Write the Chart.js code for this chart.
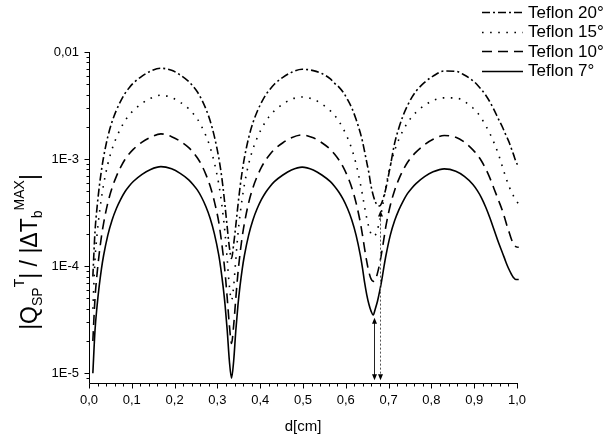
<!DOCTYPE html>
<html>
<head>
<meta charset="utf-8">
<script src="https://cdn.jsdelivr.net/npm/chart.js@4.4.0/dist/chart.umd.min.js"></script>
<style>
  html, body { margin: 0; padding: 0; background: #fff; }
  canvas { display: block; }
</style>
</head>
<body>
<canvas id="chart" width="609" height="444"></canvas>
<script>
// d [cm], shared by all four curves
const xs = [
  0.009, 0.014, 0.019, 0.024, 0.029, 0.034, 0.044, 0.054, 0.064, 0.074, 0.084, 0.094, 0.104, 0.124, 0.144, 0.168,
  0.193, 0.213, 0.233, 0.243, 0.253, 0.263, 0.273, 0.283, 0.293, 0.303, 0.308, 0.313, 0.318, 0.323, 0.328, 0.333,
  0.338, 0.343, 0.348, 0.353, 0.358, 0.363, 0.373, 0.383, 0.393, 0.403, 0.413, 0.423, 0.433, 0.453, 0.473, 0.498,
  0.524, 0.544, 0.564, 0.574, 0.584, 0.594, 0.604, 0.614, 0.624, 0.634, 0.639, 0.644, 0.649, 0.654, 0.659, 0.664,
  0.669, 0.674, 0.679, 0.684, 0.689, 0.694, 0.704, 0.714, 0.724, 0.734, 0.744, 0.754, 0.764, 0.784, 0.804, 0.830,
  0.857, 0.877, 0.897, 0.907, 0.917, 0.927, 0.937, 0.947, 0.957, 0.967, 0.972, 0.977, 0.982, 0.987, 0.992, 0.997, 1.004, 1.011];

const teflon20 = [
  8.0e-5, 2.1e-4, 3.6e-4, 5.5e-4, 7.8e-4, 1.04e-3, 1.62e-3, 2.24e-3, 2.86e-3, 3.48e-3, 4.1e-3, 4.64e-3, 5.14e-3, 5.96e-3, 6.63e-3, 7.05e-3,
  6.75e-3, 6.1e-3, 5.3e-3, 4.8e-3, 4.25e-3, 3.62e-3, 2.95e-3, 2.28e-3, 1.62e-3, 1.04e-3, 7.8e-4, 5.5e-4, 3.6e-4, 2.3e-4, 1.5e-4, 1.18e-4,
  1.6e-4, 2.4e-4, 3.7e-4, 5.5e-4, 7.7e-4, 1.02e-3, 1.58e-3, 2.18e-3, 2.78e-3, 3.38e-3, 3.98e-3, 4.5e-3, 5.0e-3, 5.8e-3, 6.45e-3, 6.9e-3,
  6.7e-3, 6.3e-3, 5.6e-3, 5.1e-3, 4.7e-3, 4.2e-3, 3.6e-3, 3.0e-3, 2.35e-3, 1.75e-3, 1.46e-3, 1.17e-3, 9.3e-4, 7.4e-4, 5.6e-4, 4.6e-4,
  4.0e-4, 3.7e-4, 3.65e-4, 3.9e-4, 4.5e-4, 5.4e-4, 8.6e-4, 1.4e-3, 1.95e-3, 2.55e-3, 3.15e-3, 3.75e-3, 4.3e-3, 5.2e-3, 5.95e-3, 6.65e-3,
  6.6e-3, 6.1e-3, 5.4e-3, 4.95e-3, 4.45e-3, 3.95e-3, 3.4e-3, 2.85e-3, 2.35e-3, 1.95e-3, 1.75e-3, 1.58e-3, 1.42e-3, 1.25e-3, 1.1e-3, 9.6e-4, 8.4e-4, null];

const teflon15 = [
  4.0e-5, 1.15e-4, 2.0e-4, 3.05e-4, 4.3e-4, 5.75e-4, 9.0e-4, 1.24e-3, 1.59e-3, 1.93e-3, 2.28e-3, 2.58e-3, 2.85e-3, 3.32e-3, 3.7e-3, 3.95e-3,
  3.75e-3, 3.4e-3, 2.95e-3, 2.67e-3, 2.37e-3, 2.02e-3, 1.66e-3, 1.29e-3, 9.2e-4, 5.9e-4, 4.4e-4, 3.05e-4, 2.0e-4, 1.15e-4, 6.5e-5, 4.8e-5,
  6.5e-5, 1.15e-4, 2.0e-4, 3.05e-4, 4.3e-4, 5.75e-4, 9.0e-4, 1.24e-3, 1.58e-3, 1.92e-3, 2.25e-3, 2.55e-3, 2.82e-3, 3.27e-3, 3.62e-3, 3.8e-3,
  3.62e-3, 3.27e-3, 2.82e-3, 2.55e-3, 2.25e-3, 1.92e-3, 1.58e-3, 1.24e-3, 9.0e-4, 5.9e-4, 4.6e-4, 3.55e-4, 2.8e-4, 2.3e-4, 2.0e-4, 1.9e-4,
  1.95e-4, 2.2e-4, 2.65e-4, 3.3e-4, 4.3e-4, 5.6e-4, 8.7e-4, 1.2e-3, 1.53e-3, 1.86e-3, 2.18e-3, 2.47e-3, 2.73e-3, 3.18e-3, 3.52e-3, 3.73e-3,
  3.72e-3, 3.45e-3, 3.0e-3, 2.72e-3, 2.4e-3, 2.05e-3, 1.72e-3, 1.4e-3, 1.1e-3, 8.2e-4, 7.1e-4, 6.2e-4, 5.5e-4, 4.9e-4, 4.5e-4, 4.15e-4, 3.8e-4, null];

const teflon10 = [
  2.0e-5, 5.0e-5, 8.6e-5, 1.32e-4, 1.88e-4, 2.5e-4, 3.9e-4, 5.4e-4, 6.9e-4, 8.4e-4, 9.9e-4, 1.12e-3, 1.24e-3, 1.44e-3, 1.6e-3, 1.72e-3,
  1.62e-3, 1.47e-3, 1.28e-3, 1.16e-3, 1.03e-3, 8.8e-4, 7.2e-4, 5.6e-4, 4.0e-4, 2.6e-4, 1.9e-4, 1.32e-4, 8.6e-5, 5.0e-5, 2.8e-5, 1.9e-5,
  2.8e-5, 5.0e-5, 8.6e-5, 1.32e-4, 1.88e-4, 2.5e-4, 3.9e-4, 5.4e-4, 6.9e-4, 8.4e-4, 9.8e-4, 1.11e-3, 1.23e-3, 1.42e-3, 1.58e-3, 1.68e-3,
  1.58e-3, 1.42e-3, 1.23e-3, 1.11e-3, 9.8e-4, 8.4e-4, 6.9e-4, 5.4e-4, 3.9e-4, 2.55e-4, 1.95e-4, 1.45e-4, 1.1e-4, 8.8e-5, 7.6e-5, 7.2e-5,
  7.4e-5, 8.6e-5, 1.05e-4, 1.35e-4, 1.8e-4, 2.4e-4, 3.7e-4, 5.1e-4, 6.5e-4, 7.9e-4, 9.3e-4, 1.05e-3, 1.16e-3, 1.36e-3, 1.53e-3, 1.66e-3,
  1.6e-3, 1.44e-3, 1.22e-3, 1.1e-3, 9.6e-4, 8.1e-4, 6.6e-4, 5.2e-4, 4.1e-4, 3.2e-4, 2.75e-4, 2.35e-4, 2.05e-4, 1.78e-4, 1.6e-4, 1.52e-4, 1.5e-4, 1.65e-4];

const teflon7 = [
  1.0e-5, 2.5e-5, 4.3e-5, 6.6e-5, 9.4e-5, 1.25e-4, 1.95e-4, 2.7e-4, 3.45e-4, 4.2e-4, 4.95e-4, 5.6e-4, 6.2e-4, 7.2e-4, 8.0e-4, 8.5e-4,
  8.1e-4, 7.35e-4, 6.4e-4, 5.8e-4, 5.15e-4, 4.4e-4, 3.6e-4, 2.8e-4, 2.0e-4, 1.28e-4, 9.5e-5, 6.6e-5, 4.3e-5, 2.5e-5, 1.3e-5, 9.0e-6,
  1.3e-5, 2.5e-5, 4.3e-5, 6.6e-5, 9.4e-5, 1.25e-4, 1.95e-4, 2.7e-4, 3.45e-4, 4.2e-4, 4.9e-4, 5.55e-4, 6.15e-4, 7.1e-4, 7.9e-4, 8.4e-4,
  7.9e-4, 7.1e-4, 6.15e-4, 5.55e-4, 4.9e-4, 4.2e-4, 3.45e-4, 2.7e-4, 1.95e-4, 1.26e-4, 9.6e-5, 7.0e-5, 5.4e-5, 4.4e-5, 3.8e-5, 3.5e-5,
  4.0e-5, 4.7e-5, 5.8e-5, 7.4e-5, 9.8e-5, 1.27e-4, 1.95e-4, 2.65e-4, 3.35e-4, 4.05e-4, 4.75e-4, 5.35e-4, 5.9e-4, 6.85e-4, 7.6e-4, 8.1e-4,
  7.7e-4, 6.9e-4, 5.8e-4, 5.1e-4, 4.35e-4, 3.55e-4, 2.8e-4, 2.15e-4, 1.65e-4, 1.3e-4, 1.15e-4, 1.02e-4, 9.2e-5, 8.4e-5, 7.8e-5, 7.5e-5, 7.5e-5, 8.7e-5];

const seriesNames = ['Teflon 20°', 'Teflon 15°', 'Teflon 10°', 'Teflon 7°'];

const xTickValues = [0, 0.1, 0.2, 0.3, 0.4, 0.5, 0.6, 0.7, 0.8, 0.9, 1.0];
const xTickLabels = ['0,0', '0,1', '0,2', '0,3', '0,4', '0,5', '0,6', '0,7', '0,8', '0,9', '1,0'];
const yTickValues = [1e-5, 1e-4, 1e-3, 1e-2];
const yTickLabels = ['1E-5', '1E-4', '1E-3', '0,01'];

// the two double arrows under the third minimum
const arrowX = [0.665, 0.68];
const arrowTop = [3.3e-5, 3.3e-4];
const arrowBottom = [8.6e-6, 8.6e-6];

const FONT = "'Liberation Sans', Arial, sans-serif";

function toPoints(ys) {
  const pts = [];
  for (let i = 0; i < xs.length; i++) {
    if (ys[i] !== null) pts.push({ x: xs[i], y: ys[i] });
  }
  return pts;
}

function makeSet(label, ys, dash) {
  return {
    label: label,
    data: toPoints(ys),
    borderColor: '#000',
    borderWidth: 1.6,
    borderDash: dash,
    pointRadius: 0,
    fill: false,
    cubicInterpolationMode: 'monotone',
    clip: false
  };
}

function arrowHead(ctx, x, y, dir) {
  ctx.beginPath();
  ctx.moveTo(x, y);
  ctx.lineTo(x - 2.5, y - dir * 6);
  ctx.lineTo(x + 2.5, y - dir * 6);
  ctx.closePath();
  ctx.fill();
}

const extras = {
  id: 'extras',
  afterDraw(chart) {
    const ctx = chart.ctx;
    const xS = chart.scales.x;
    const yS = chart.scales.y;
    const area = chart.chartArea;
    ctx.save();
    ctx.strokeStyle = '#000';
    ctx.fillStyle = '#000';
    ctx.lineWidth = 1;

    // axis lines
    const ax = Math.round(area.left) + 0.5;
    const ay = Math.round(area.bottom) + 0.5;
    ctx.beginPath();
    ctx.moveTo(ax, Math.round(area.top));
    ctx.lineTo(ax, ay);
    ctx.lineTo(Math.round(area.right) + 1, ay);
    ctx.stroke();

    // x ticks, minor every 0.02
    ctx.beginPath();
    for (let i = 0; i <= 50; i++) {
      const px = Math.round(xS.getPixelForValue(i * 0.02)) + 0.5;
      const len = i % 5 === 0 ? 5 : 3;
      ctx.moveTo(px, ay);
      ctx.lineTo(px, ay + len);
    }
    // y ticks, minor at 2..9 of each decade
    for (let e = -6; e <= -2; e++) {
      for (let m = 1; m <= 9; m++) {
        const v = m * Math.pow(10, e);
        if (v < yS.min * 0.999 || v > yS.max * 1.001) continue;
        const py = Math.round(yS.getPixelForValue(v)) + 0.5;
        const len = m === 1 ? 5 : 3;
        ctx.moveTo(ax, py);
        ctx.lineTo(ax - len, py);
      }
    }
    ctx.stroke();

    // arrows
    for (let i = 0; i < arrowX.length; i++) {
      const px = Math.round(xS.getPixelForValue(arrowX[i])) + 0.5;
      const y1 = yS.getPixelForValue(arrowTop[i]);
      const y2 = yS.getPixelForValue(arrowBottom[i]);
      ctx.save();
      ctx.lineWidth = 1;
      ctx.strokeStyle = i === 0 ? '#222' : '#555';
      ctx.setLineDash(i === 0 ? [] : [2, 2]);
      ctx.beginPath();
      ctx.moveTo(px, y1 + 5);
      ctx.lineTo(px, y2 - 5);
      ctx.stroke();
      ctx.restore();
      arrowHead(ctx, px, y1, -1);
      arrowHead(ctx, px, y2, 1);
    }

    // legend
    ctx.font = '17px ' + FONT;
    ctx.textBaseline = 'middle';
    ctx.textAlign = 'left';
    chart.data.datasets.forEach((ds, i) => {
      const cy = 12 + i * 19.5;
      ctx.save();
      ctx.lineWidth = 1.6;
      ctx.setLineDash(ds.borderDash);
      ctx.beginPath();
      ctx.moveTo(482, Math.round(cy) + 0.5);
      ctx.lineTo(523, Math.round(cy) + 0.5);
      ctx.stroke();
      ctx.restore();
      ctx.fillText(ds.label, 528, cy + 1);
    });

    // x title
    ctx.font = '15px ' + FONT;
    ctx.textAlign = 'center';
    ctx.fillText('d[cm]', (area.left + area.right) / 2, area.bottom + 44);

    // y title with sub/superscripts, rotated
    const parts = [
      { t: '|Q', k: 0 }, { t: 'SP', k: -1 }, { t: 'T', k: 1 }, { t: '| / |ΔT', k: 0 },
      { t: 'b', k: -1 }, { t: 'MAX', k: 1 }, { t: '|', k: 0 }
    ];
    const big = '23px ' + FONT, small = '14px ' + FONT;
    let total = 0;
    parts.forEach(p => { ctx.font = p.k === 0 ? big : small; p.w = ctx.measureText(p.t).width; total += p.w; });
    ctx.translate(37, 252);
    ctx.rotate(-Math.PI / 2);
    ctx.textAlign = 'left';
    ctx.textBaseline = 'alphabetic';
    let cx = -total / 2;
    parts.forEach(p => {
      ctx.font = p.k === 0 ? big : small;
      const dy = p.k === 0 ? 0 : (p.k < 0 ? 5 : -13);
      ctx.fillText(p.t, cx, dy);
      cx += p.w;
    });
    ctx.restore();
  }
};

new Chart(document.getElementById('chart'), {
  type: 'line',
  data: {
    datasets: [
      makeSet(seriesNames[0], teflon20, [8, 3, 2, 3]),
      makeSet(seriesNames[1], teflon15, [1.6, 6.5]),
      makeSet(seriesNames[2], teflon10, [10, 6]),
      makeSet(seriesNames[3], teflon7, [])
    ]
  },
  options: {
    responsive: false,
    animation: false,
    layout: { padding: { left: 0, right: 92, top: 52, bottom: 0 } },
    plugins: { legend: { display: false }, tooltip: { enabled: false } },
    scales: {
      x: {
        type: 'linear',
        min: 0,
        max: 1,
        afterFit: s => { s.height = 61; },
        afterBuildTicks: s => { s.ticks = xTickValues.map(v => ({ value: v })); },
        grid: { display: false, drawTicks: false },
        border: { display: false },
        ticks: {
          autoSkip: false,
          maxRotation: 0,
          padding: 10,
          color: '#000',
          font: { family: FONT, size: 13 },
          callback: (v, i) => xTickLabels[i]
        }
      },
      y: {
        type: 'logarithmic',
        min: 8.1e-6,
        max: 0.01,
        afterFit: s => { s.width = 89; },
        afterBuildTicks: s => { s.ticks = yTickValues.map(v => ({ value: v })); },
        grid: { display: false, drawTicks: false },
        border: { display: false },
        ticks: {
          autoSkip: false,
          padding: 10,
          color: '#000',
          font: { family: FONT, size: 13 },
          callback: (v, i) => yTickLabels[i]
        }
      }
    }
  },
  plugins: [extras]
});
</script>
</body>
</html>
